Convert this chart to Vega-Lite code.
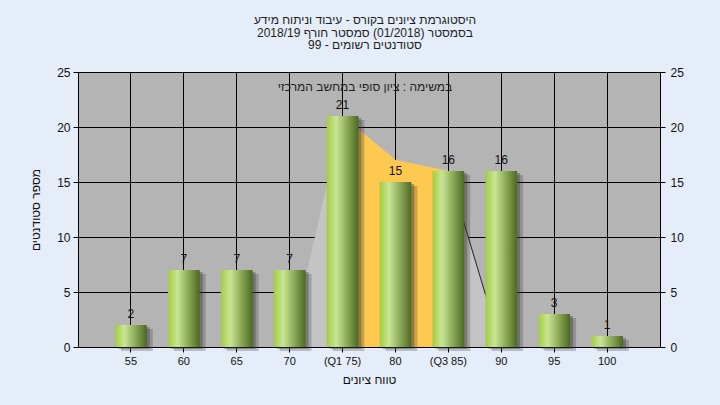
{
  "$schema": "https://vega.github.io/schema/vega-lite/v6.json",
  "width": 582,
  "height": 275,
  "autosize": {"type": "none"},
  "padding": {"left": 78, "top": 72, "right": 60, "bottom": 58},
  "background": "#e4edf8",
  "config": {
    "font": "Liberation Sans",
    "view": {"fill": "#b4b4b4", "stroke": "#000000", "strokeWidth": 1},
    "axis": {"labelFont": "Liberation Sans", "titleFont": "Liberation Sans", "labelColor": "#111111", "titleColor": "#111111", "domainColor": "#000000", "tickColor": "#000000", "titleFontWeight": "normal"}
  },
  "title": {
    "text": ["היסטוגרמת ציונים בקורס - עיבוד וניתוח מידע", "בסמסטר  (01/2018)  סמסטר חורף 2018/19", "סטודנטים רשומים - 99"],
    "subtitle": "במשימה : ציון סופי במחשב המרכזי",
    "anchor": "middle",
    "font": "Liberation Sans",
    "fontSize": 12,
    "fontWeight": "normal",
    "color": "#1e1e1e",
    "lineHeight": 12.5,
    "subtitleFont": "Liberation Sans",
    "subtitleFontSize": 12,
    "subtitleColor": "#1e1e1e",
    "subtitlePadding": 30,
    "offset": -28,
    "dx": -4
  },
  "datasets": {
    "bars": [
      {"grade": "55", "students": 2},
      {"grade": "60", "students": 7},
      {"grade": "65", "students": 7},
      {"grade": "70", "students": 7},
      {"grade": "(Q1 75)", "students": 21},
      {"grade": "80", "students": 15},
      {"grade": "(Q3 85)", "students": 16},
      {"grade": "90", "students": 16},
      {"grade": "95", "students": 3},
      {"grade": "100", "students": 1}
    ],
    "curve": [
      {"grade": "70", "value": 0, "zone": "tail"},
      {"grade": "(Q1 75)", "value": 21, "zone": "iqr"},
      {"grade": "80", "value": 17, "zone": "iqr"},
      {"grade": "(Q3 85)", "value": 16, "zone": "iqr"},
      {"grade": "90", "value": 0, "zone": "tail"}
    ]
  },
  "encoding": {
    "x": {
      "field": "grade",
      "type": "ordinal",
      "scale": {"domain": ["55", "60", "65", "70", "(Q1 75)", "80", "(Q3 85)", "90", "95", "100"], "paddingInner": 0.4, "paddingOuter": 0.7},
      "axis": {"title": "טווח ציונים", "labelAngle": 0, "labelFontSize": 11, "titleFontSize": 12, "tickSize": 5, "labelPadding": 3, "titlePadding": 8, "grid": true, "gridColor": "#000000", "gridWidth": 1, "gridOpacity": 1, "domainColor": "#000000"}
    }
  },
  "layer": [
    {
      "data": {"name": "curve"},
      "mark": {"type": "area", "color": "#c4c4c4"},
      "encoding": {
        "y": {
          "field": "value", "type": "quantitative",
          "scale": {"domain": [0, 25], "nice": false},
          "axis": {"orient": "left", "title": "מספר סטודנטים", "values": [0, 5, 10, 15, 20, 25], "labelFontSize": 12, "titleFontSize": 12, "tickSize": 5, "labelPadding": 3, "titlePadding": 14, "grid": true, "gridColor": "#000000", "gridOpacity": 1, "gridWidth": 1}
        }
      }
    },
    {
      "data": {"name": "curve"},
      "transform": [{"filter": "datum.zone === 'iqr'"}],
      "mark": {"type": "area", "color": "#ffc84e"},
      "encoding": {"y": {"field": "value", "type": "quantitative", "axis": null}}
    },
    {
      "data": {"name": "curve"},
      "transform": [{"filter": {"field": "grade", "oneOf": ["(Q3 85)", "90"]}}],
      "mark": {"type": "line", "color": "#222222", "strokeWidth": 1},
      "encoding": {"y": {"field": "value", "type": "quantitative", "axis": null}}
    },
    {
      "data": {"name": "bars"},
      "mark": {"type": "bar", "color": "#303030", "opacity": 0.25, "xOffset": 6, "x2Offset": 6, "yOffset": 4, "y2Offset": 4},
      "encoding": {"y": {"field": "students", "type": "quantitative", "axis": null}}
    },
    {
      "data": {"name": "bars"},
      "mark": {"type": "bar", "color": "#303030", "opacity": 0.35, "xOffset": 3, "x2Offset": 3, "yOffset": 2, "y2Offset": 2},
      "encoding": {"y": {"field": "students", "type": "quantitative", "axis": null}}
    },
    {
      "data": {"name": "bars"},
      "mark": {
        "type": "bar",
        "color": {"gradient": "linear", "x1": 0, "y1": 0, "x2": 1, "y2": 0, "stops": [
          {"offset": 0, "color": "#a3cd40"},
          {"offset": 0.3, "color": "#c8e596"},
          {"offset": 0.65, "color": "#8aa956"},
          {"offset": 1, "color": "#4c6824"}
        ]}
      },
      "encoding": {
        "y": {
          "field": "students", "type": "quantitative",
          "axis": {"orient": "right", "title": null, "values": [0, 5, 10, 15, 20, 25], "labelFontSize": 12, "tickSize": 5, "labelPadding": 5, "grid": false}
        }
      }
    },
    {
      "data": {"name": "bars"},
      "mark": {"type": "text", "fontSize": 12, "color": "#111111", "baseline": "alphabetic", "dy": -7},
      "encoding": {
        "y": {"field": "students", "type": "quantitative", "axis": null},
        "text": {"field": "students", "type": "quantitative"}
      }
    }
  ],
  "resolve": {"axis": {"y": "independent"}}
}
